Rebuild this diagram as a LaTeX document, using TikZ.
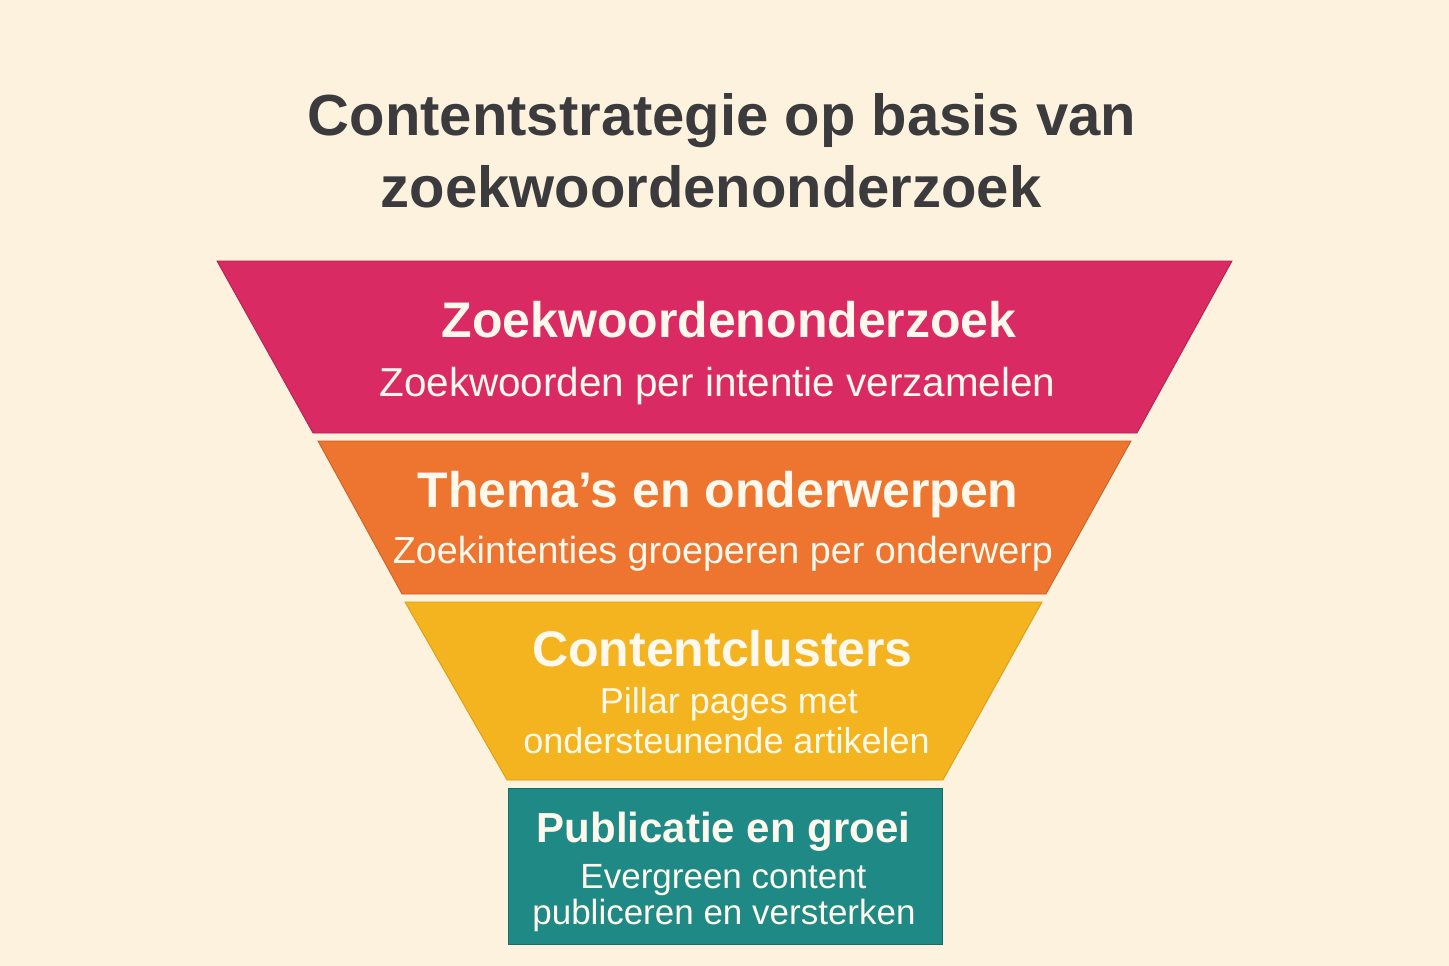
\documentclass[tikz,border=0pt]{standalone}
\usepackage{fontspec}
\setmainfont{Liberation Sans}
\definecolor{bg}{HTML}{FCF2DE}
\definecolor{cpink}{HTML}{D92A63}
\definecolor{cpinkd}{HTML}{B0204F}
\definecolor{corange}{HTML}{ED7530}
\definecolor{coranged}{HTML}{C85E22}
\definecolor{cyellow}{HTML}{F3B41F}
\definecolor{cyellowd}{HTML}{D99B10}
\definecolor{cteal}{HTML}{1F8985}
\definecolor{cteald}{HTML}{176B68}
\definecolor{ctitle}{HTML}{3B3B3D}
\definecolor{ctext}{HTML}{FFF8EC}
\begin{document}
\begin{tikzpicture}[x=1pt,y=-1pt,
  titletext/.style={anchor=base,inner sep=0pt,text=ctitle,font=\fontsize{58}{64}\selectfont\bfseries},
  headtext/.style={anchor=base,inner sep=0pt,text=ctext,font=\fontsize{50}{56}\selectfont\bfseries},
  subtext/.style={anchor=base,inner sep=0pt,text=ctext},
  band/.style={line width=0.8pt}]
\fill[bg] (0,0) rectangle (1449,966);
\useasboundingbox (0,0) rectangle (1449,966);
% title
\node[titletext] (t1) at (722,135) {Contentstrategie op basis van};
\node[titletext] (t2) at (711,207) {zoekwoordenonderzoek};
% bands
\filldraw[band,fill=cpink,draw=cpinkd] (217,261) -- (1232,261) -- (1137,433) -- (313,433) -- cycle;
\filldraw[band,fill=corange,draw=coranged] (318,441) -- (1131,441) -- (1046,594) -- (402,594) -- cycle;
\filldraw[band,fill=cyellow,draw=cyellowd] (405,602) -- (1042,602) -- (943,780) -- (507,780) -- cycle;
\filldraw[band,fill=cteal,draw=cteald] (508,788) rectangle (942,944);
% band texts
\node[headtext] (h1) at (729,337) {Zoekwoordenonderzoek};
\node[subtext,font=\fontsize{40.4}{46}\selectfont] (s1) at (717.5,396) {Zoekwoorden per intentie verzamelen};
\node[headtext] (h2) at (718,507) {Thema’s en onderwerpen};
\node[subtext,font=\fontsize{37.7}{44}\selectfont] (s2) at (723,563) {Zoekintenties groeperen per onderwerp};
\node[headtext] (h3) at (722.5,666) {Contentclusters};
\node[subtext,font=\fontsize{36}{42}\selectfont] (s3a) at (729,713) {Pillar pages met};
\node[subtext,font=\fontsize{36}{42}\selectfont] (s3b) at (726.5,753) {ondersteunende artikelen};
\node[headtext,font=\fontsize{42}{48}\selectfont\bfseries] (h4) at (723.5,842) {Publicatie en groei};
\node[subtext,font=\fontsize{35}{41}\selectfont] (s4a) at (723.5,888) {Evergreen content};
\node[subtext,font=\fontsize{35}{41}\selectfont] (s4b) at (724,924) {publiceren en versterken};
\end{tikzpicture}
\end{document}
